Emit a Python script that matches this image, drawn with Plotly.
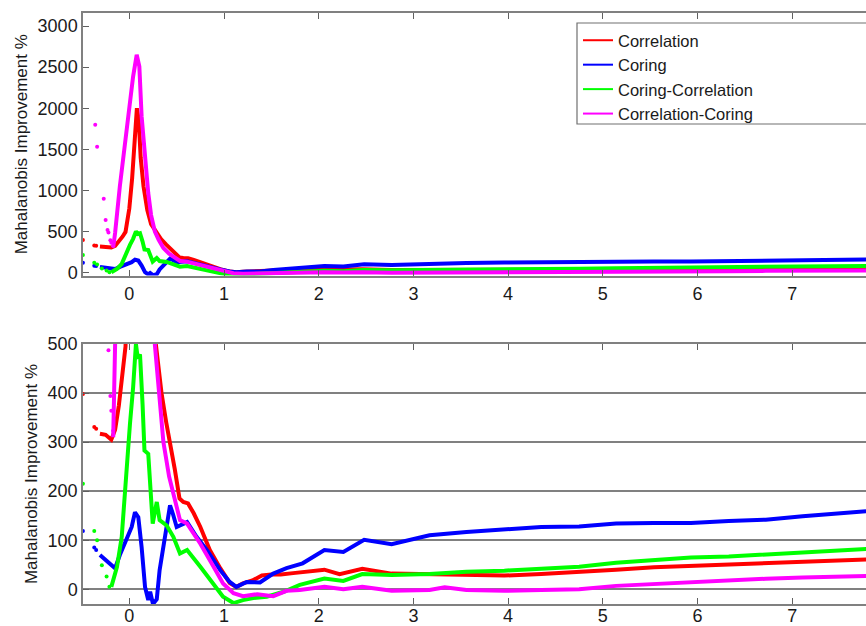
import plotly.graph_objects as go

# ---------------- data ----------------
series_names = ["Correlation", "Coring", "Coring-Correlation", "Correlation-Coring"]
series_colors = ["#ff0000", "#0000ff", "#00ff00", "#ff00ff"]

# sparse leading dots
red_dots_x = [-0.49, -0.37, -0.35]
red_dots_y = [398, 331, 327]
blue_dots_x = [-0.49, -0.37, -0.35]
blue_dots_y = [119, 85, 80]
green_dots_x = [-0.49, -0.37, -0.34, -0.29, -0.24, -0.21]
green_dots_y = [215, 119, 100, 49, 26, 5]
magenta_dots_x = [-0.36, -0.34, -0.27, -0.25, -0.23, -0.22, -0.20, -0.19, -0.17]
magenta_dots_y = [1800, 1530, 900, 640, 520, 487, 394, 364, 323]

# dense curves
red_x = [-0.31, -0.25, -0.19, -0.15, -0.11, -0.07, -0.04, 0.0, 0.03, 0.06, 0.08, 0.10,
         0.12, 0.15, 0.19, 0.23, 0.28, 0.34, 0.39, 0.43, 0.48, 0.53, 0.57, 0.62, 0.68,
         0.75, 0.85, 0.96, 1.06, 1.13, 1.20, 1.30, 1.40, 1.50, 1.60, 1.73, 1.90, 2.06,
         2.22, 2.46, 2.77, 3.17, 3.56, 3.96, 4.35, 4.75, 5.14, 5.54, 5.93, 6.33, 6.72,
         7.11, 7.50, 7.78]
red_y = [317, 315, 305, 325, 375, 440, 495, 780, 1150, 1650, 2000, 1850,
         1400, 1050, 760, 590, 500, 400, 340, 300, 245, 185, 178, 175, 155,
         127, 80, 43, 13, 5, 12, 18, 28, 30, 30, 33, 36, 40,
         31, 42, 32, 31, 31, 28, 31, 35, 40, 45, 48, 51, 53,
         56, 59, 61]

blue_x = [-0.31, -0.24, -0.15, -0.10, -0.03, 0.025, 0.06, 0.095, 0.13, 0.166, 0.20,
          0.22, 0.25, 0.29, 0.32, 0.38, 0.43, 0.46, 0.50, 0.61, 0.71, 0.82, 0.96, 1.06,
          1.13, 1.24, 1.38, 1.52, 1.66, 1.83, 2.06, 2.26, 2.48, 2.77, 3.17, 3.56, 3.96,
          4.35, 4.75, 5.14, 5.54, 5.93, 6.33, 6.72, 7.11, 7.50, 7.78]
blue_y = [70, 59, 43, 70, 100, 127, 157, 147, 86, 5, -22,
          -5, -30, -20, 39, 107, 171, 154, 127, 137, 107, 80, 39, 15,
          5, 15, 14, 32, 43, 53, 80, 76, 101, 92, 110, 117, 122,
          127, 128, 134, 135, 135, 139, 142, 149, 155, 159]

green_x = [-0.19, -0.13, -0.08, -0.045, 0.007, 0.04, 0.07, 0.09, 0.113, 0.14, 0.16,
           0.20, 0.226, 0.247, 0.29, 0.32, 0.395, 0.465, 0.535, 0.61, 0.75, 0.89, 0.99,
           1.10, 1.20, 1.31, 1.45, 1.63, 1.80, 2.06, 2.26, 2.46, 2.77, 3.17, 3.56, 3.96,
           4.35, 4.75, 5.14, 5.54, 5.93, 6.33, 6.72, 7.11, 7.50, 7.78]
green_y = [5, 46, 107, 208, 337, 411, 500, 470, 479, 377, 283,
           276, 181, 134, 178, 141, 130, 107, 73, 80, 46, 12, -15,
           -28, -22, -18, -15, -5, 9, 22, 17, 31, 29, 31, 36, 38,
           42, 46, 54, 59, 65, 67, 71, 76, 79, 82]

magenta_x = [-0.17, -0.15, -0.10, -0.045, 0.007, 0.04, 0.078, 0.106, 0.13, 0.166, 0.20,
             0.23, 0.27, 0.31, 0.36, 0.42, 0.465, 0.535, 0.61, 0.75, 0.89, 0.99, 1.10,
             1.20, 1.35, 1.52, 1.66, 1.80, 2.06, 2.26, 2.46, 2.77, 3.17, 3.33, 3.56, 3.96,
             4.35, 4.75, 5.14, 5.54, 5.93, 6.33, 6.72, 7.11, 7.50, 7.78]
magenta_y = [310, 482, 1049, 1616, 2100, 2385, 2650, 2507, 1900, 1373, 968,
             700, 498, 400, 300, 230, 195, 141, 134, 93, 46, 12, -8,
             -14, -10, -14, -3, -1.5, 5, 0, 5, -3, -1.5, 4, -1.5, -3,
             -1.5, 0, 7, 11, 13.5, 17.5, 21.5, 24, 26, 27]

top_yticks = [0, 500, 1000, 1500, 2000, 2500, 3000]
bottom_yticks = [0, 100, 200, 300, 400, 500]
xticks = [0, 1, 2, 3, 4, 5, 6, 7]

# ---------------- figure ----------------
lines = [(red_x, red_y), (blue_x, blue_y), (green_x, green_y), (magenta_x, magenta_y)]
dots = [(red_dots_x, red_dots_y), (blue_dots_x, blue_dots_y),
        (green_dots_x, green_dots_y), (magenta_dots_x, magenta_dots_y)]

fig = go.Figure()
for panel_x, panel_y in (("x", "y"), ("x2", "y2")):
    for (lx, ly), (dx, dy), col in zip(lines, dots, series_colors):
        fig.add_trace(go.Scatter(x=lx, y=ly, mode="lines", xaxis=panel_x, yaxis=panel_y,
                                 line=dict(color=col, width=4), showlegend=False,
                                 hoverinfo="skip", cliponaxis=True))
        fig.add_trace(go.Scatter(x=dx, y=dy, mode="markers", xaxis=panel_x, yaxis=panel_y,
                                 marker=dict(color=col, size=4), showlegend=False,
                                 hoverinfo="skip", cliponaxis=True))

for name, col in zip(series_names, series_colors):
    fig.add_trace(go.Scatter(x=[None], y=[None], mode="lines", name=name,
                             xaxis="x2", yaxis="y2", line=dict(color=col, width=2)))

font_family = "Liberation Sans, Arial, sans-serif"
axis_common = dict(showline=True, linecolor="#808080", linewidth=1.5,
                   ticks="inside", ticklen=6, tickcolor="#606060", tickwidth=1,
                   tickfont=dict(family=font_family, size=18, color="#1a1a1a"),
                   zeroline=False, automargin=False)
title_font = dict(family=font_family, size=17, color="#1a1a1a")

xr = [-0.489, 7.779]
fig.update_layout(
    width=866, height=626,
    margin=dict(l=83, r=0, t=0, b=0, autoexpand=False),
    paper_bgcolor="white", plot_bgcolor="white",
    font=dict(family=font_family, color="#1a1a1a"),
    showlegend=True,
    legend=dict(x=(578 - 83) / 783, y=(626 - 23) / 626, xanchor="left", yanchor="top",
                bgcolor="rgba(0,0,0,0)", borderwidth=0,
                font=dict(family=font_family, size=16.5, color="#1a1a1a"),
                itemwidth=30, tracegroupgap=0),
    # bottom panel
    xaxis=dict(domain=[0, 1], anchor="y", range=xr, tickvals=xticks, mirror="ticks",
               showgrid=False, ticklabelstandoff=-5, **axis_common),
    yaxis=dict(domain=[0.0351, 0.4505], anchor="x", range=[-30, 500],
               tickvals=bottom_yticks, showgrid=True, gridcolor="#808080", gridwidth=1.5,
               mirror=False,
               title=dict(text="Mahalanobis Improvement %", font=title_font, standoff=6),
               **axis_common),
    # top panel
    xaxis2=dict(domain=[0, 1], anchor="y2", range=xr, tickvals=xticks, mirror="ticks",
                showgrid=False, ticklabelstandoff=1, **axis_common),
    yaxis2=dict(domain=[0.5599, 0.9792], anchor="x2", range=[-35, 3158],
                tickvals=top_yticks, showgrid=False, mirror=False,
                title=dict(text="Mahalanobis Improvement %", font=title_font, standoff=6),
                **axis_common),
    shapes=[dict(type="rect", xref="paper", yref="paper",
                 x0=(577 - 83) / 783, x1=1.05,
                 y0=(626 - 124) / 626, y1=(626 - 23) / 626,
                 line=dict(color="#707070", width=1.2), fillcolor="white", layer="above")],
)

fig.write_html("out.html", config={"displayModeBar": False},
               post_script="document.body.style.margin='0px';")
